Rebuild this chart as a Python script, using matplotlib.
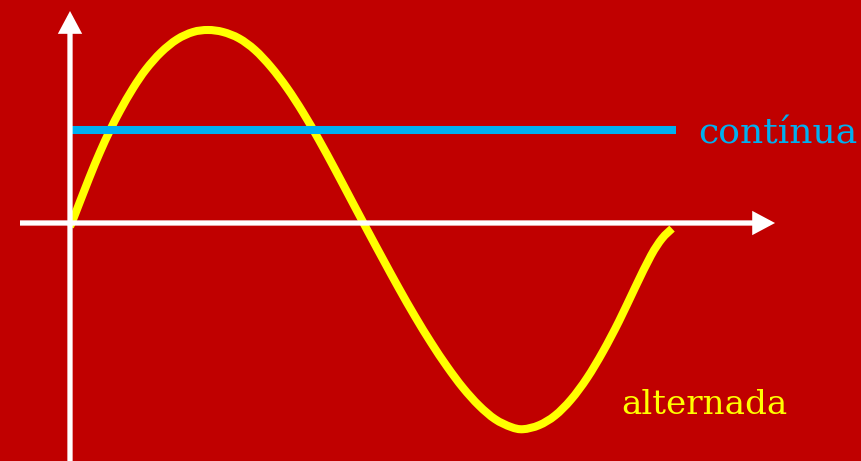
import matplotlib
matplotlib.use("Agg")
import matplotlib.pyplot as plt
from matplotlib.path import Path
from matplotlib.patches import PathPatch

# Alternating waveform: phase angle (degrees) and voltage (V)
phase_deg = [0.0, 2.4, 11.4, 17.9, 23.9, 29.9, 37.7, 45.4, 54.4, 64.0, 73.6, 82.5,
             91.5, 101.1, 110.6, 120.2, 129.8, 139.3, 148.9, 158.5, 168.0, 177.6,
             187.2, 196.7, 206.3, 215.9, 225.5, 235.0, 244.6, 254.2, 263.7, 270.9,
             280.5, 290.0, 299.6, 309.2, 318.7, 328.3, 337.9, 347.4, 354.0, 360.0]
ac_volts = [-0.18, 0.30, 2.23, 3.54, 4.63, 5.61, 6.74, 7.68, 8.53, 9.18, 9.55, 9.65,
            9.55, 9.23, 8.65, 7.80, 6.75, 5.53, 4.15, 2.68, 1.18, -0.33,
            -1.82, -3.27, -4.67, -5.98, -7.18, -8.24, -9.13, -9.81, -10.20, -10.31,
            -10.11, -9.63, -8.83, -7.75, -6.43, -4.91, -3.23, -1.63, -0.78, -0.28]

# Direct level
dc_span = [1.2, 362.4]
dc_volts = 4.65

labels = {"dc": "contínua", "ac": "alternada"}

BG = "#C00000"
YELLOW = "#FFFF00"
BLUE = "#00B0F0"


def smooth_path(xs, ys):
    """Cubic Bezier path passing through every (x, y) sample (Catmull-Rom)."""
    pts = list(zip(xs, ys))
    n = len(pts)
    verts = [pts[0]]
    codes = [Path.MOVETO]
    for i in range(n - 1):
        p0 = pts[max(i - 1, 0)]
        p1 = pts[i]
        p2 = pts[i + 1]
        p3 = pts[min(i + 2, n - 1)]
        c1 = (p1[0] + (p2[0] - p0[0]) / 6.0, p1[1] + (p2[1] - p0[1]) / 6.0)
        c2 = (p2[0] - (p3[0] - p1[0]) / 6.0, p2[1] - (p3[1] - p1[1]) / 6.0)
        verts += [c1, c2, p2]
        codes += [Path.CURVE4] * 3
    return Path(verts, codes)


fig = plt.figure(figsize=(8.61, 4.61), dpi=100, facecolor=BG)
ax = fig.add_axes([0, 0, 1, 1])
ax.set_facecolor(BG)
ax.set_xlim(-41.86, 473.0)
ax.set_ylim(-11.9, 11.15)
ax.axis("off")

wave = PathPatch(smooth_path(phase_deg, ac_volts), facecolor="none",
                 edgecolor=YELLOW, lw=5.8, capstyle="butt", joinstyle="round",
                 zorder=2)
ax.add_patch(wave)
ax.plot(dc_span, [dc_volts, dc_volts], color=BLUE, lw=5.8,
        solid_capstyle="butt", zorder=3)

# Coordinate axes with arrow heads
arrow = dict(arrowstyle="-|>,head_length=10.5,head_width=5.6", lw=3.8,
             color="white", shrinkA=0, shrinkB=0, mutation_scale=1,
             joinstyle="miter", capstyle="butt")
ax.annotate("", xy=(421.6, 0), xytext=(-29.9, 0), arrowprops=arrow, zorder=4)
ax.annotate("", xy=(0, 10.6), xytext=(0, -11.9), arrowprops=arrow, zorder=4)

font = ["DejaVu Serif"]
ax.text(375.6, 4.0, labels["dc"], color=BLUE, fontsize=26.0, family=font,
        ha="left", va="baseline", zorder=5)
ax.text(329.5, -9.55, labels["ac"], color=YELLOW, fontsize=24.6, family=font,
        ha="left", va="baseline", zorder=5)

fig.savefig("out.png", dpi=100, facecolor=BG)
